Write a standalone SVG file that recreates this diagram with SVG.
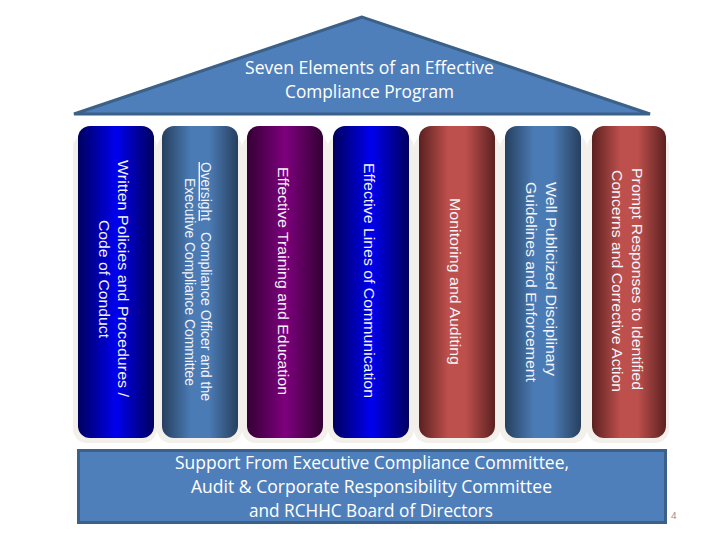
<svg xmlns="http://www.w3.org/2000/svg" width="720" height="540" viewBox="0 0 720 540">
<style>
.c{font-family:"Liberation Sans",Arial,sans-serif;fill:#f2f4fa}
.b{font-family:"Open Sans","Noto Sans",sans-serif;fill:#fff}
.s{fill:#f3efea}
.box{fill:#4f7fbb;stroke:#3c6188;stroke-width:3}
</style>
<defs>
<linearGradient id="gb"><stop offset="0" stop-color="#00005e"/><stop offset=".5" stop-color="#0000f0"/><stop offset="1" stop-color="#00005e"/></linearGradient>
<linearGradient id="gs"><stop offset="0" stop-color="#263f5e"/><stop offset=".38" stop-color="#4b7bb5"/><stop offset=".62" stop-color="#4b7bb5"/><stop offset="1" stop-color="#263f5e"/></linearGradient>
<linearGradient id="gp"><stop offset="0" stop-color="#340034"/><stop offset=".5" stop-color="#7e007e"/><stop offset="1" stop-color="#340034"/></linearGradient>
<linearGradient id="gr"><stop offset="0" stop-color="#5a2120"/><stop offset=".38" stop-color="#bd4f4c"/><stop offset=".62" stop-color="#bd4f4c"/><stop offset="1" stop-color="#5a2120"/></linearGradient>
</defs>
<rect width="720" height="540" fill="#fff"/>
<g id="roof">
<polygon class="box" points="362,17 74,114 650,114"/>
<text class="b" font-size="17.5" lengthAdjust="spacingAndGlyphs" x="245" y="74" textLength="249">Seven Elements of an Effective</text>
<text class="b" font-size="17.5" lengthAdjust="spacingAndGlyphs" x="285" y="98" textLength="169">Compliance Program</text>
</g>
<g id="column-1">
<rect class="s" x="73" y="134" width="84" height="309" rx="14"/>
<rect x="78" y="126" width="76" height="312" rx="12" fill="url(#gb)"/>
<g class="c" font-size="15.500"><text transform="translate(118,160) rotate(90)" textLength="237" lengthAdjust="spacingAndGlyphs">Written Policies and Procedures /</text><text transform="translate(99,220) rotate(90)" textLength="118" lengthAdjust="spacingAndGlyphs">Code of Conduct</text></g>
</g>
<g id="column-2">
<rect class="s" x="157" y="134" width="85" height="309" rx="14"/>
<rect x="162" y="126" width="76" height="312" rx="12" fill="url(#gs)"/>
<g class="c" font-size="14.500"><text transform="translate(201,162) rotate(90)" textLength="59" lengthAdjust="spacingAndGlyphs" text-decoration="underline">Oversight</text><text transform="translate(201,232) rotate(90)" textLength="169" lengthAdjust="spacingAndGlyphs">Compliance Officer and the</text><text transform="translate(185,178) rotate(90)" textLength="208" lengthAdjust="spacingAndGlyphs">Executive Compliance Committee</text></g>
</g>
<g id="column-3">
<rect class="s" x="242" y="134" width="86" height="309" rx="14"/>
<rect x="247" y="126" width="76" height="312" rx="12" fill="url(#gp)"/>
<text class="c" font-size="15.500" transform="translate(278,167) rotate(90)" textLength="228" lengthAdjust="spacingAndGlyphs">Effective Training and Education</text>
</g>
<g id="column-4">
<rect class="s" x="328" y="134" width="86" height="309" rx="14"/>
<rect x="333" y="126" width="76" height="312" rx="12" fill="url(#gb)"/>
<text class="c" font-size="15.500" transform="translate(364,163) rotate(90)" textLength="235" lengthAdjust="spacingAndGlyphs">Effective Lines of Communication</text>
</g>
<g id="column-5">
<rect class="s" x="414" y="134" width="86" height="309" rx="14"/>
<rect x="419" y="126" width="76" height="312" rx="12" fill="url(#gr)"/>
<text class="c" font-size="15.500" transform="translate(450,198) rotate(90)" textLength="167" lengthAdjust="spacingAndGlyphs">Monitoring and Auditing</text>
</g>
<g id="column-6">
<rect class="s" x="500" y="134" width="87" height="309" rx="14"/>
<rect x="505" y="126" width="76" height="312" rx="12" fill="url(#gs)"/>
<g class="c" font-size="15.500"><text transform="translate(546,182) rotate(90)" textLength="194" lengthAdjust="spacingAndGlyphs">Well Publicized Disciplinary</text><text transform="translate(526,182) rotate(90)" textLength="200" lengthAdjust="spacingAndGlyphs">Guidelines and Enforcement</text></g>
</g>
<g id="column-7">
<rect class="s" x="587" y="134" width="82" height="309" rx="14"/>
<rect x="592" y="126" width="74" height="312" rx="12" fill="url(#gr)"/>
<g class="c" font-size="15.500"><text transform="translate(632,168) rotate(90)" textLength="222" lengthAdjust="spacingAndGlyphs">Prompt Responses to Identified</text><text transform="translate(612,170) rotate(90)" textLength="222" lengthAdjust="spacingAndGlyphs">Concerns and Corrective Action</text></g>
</g>
<g id="base">
<rect class="box" x="78.500" y="450.500" width="587" height="72"/>
<text class="b" font-size="17.500" lengthAdjust="spacingAndGlyphs" x="175" y="469" textLength="394">Support From Executive Compliance Committee,</text>
<text class="b" font-size="17.500" lengthAdjust="spacingAndGlyphs" x="191" y="493" textLength="361">Audit &amp; Corporate Responsibility Committee</text>
<text class="b" font-size="17.500" lengthAdjust="spacingAndGlyphs" x="249" y="517" textLength="244">and RCHHC Board of Directors</text>
</g>
<text id="page-number" x="671" y="519" font-family="Open Sans,sans-serif" font-size="9.500" fill="#8a8a8a">4</text>
<g id="connectors"></g>
</svg>
